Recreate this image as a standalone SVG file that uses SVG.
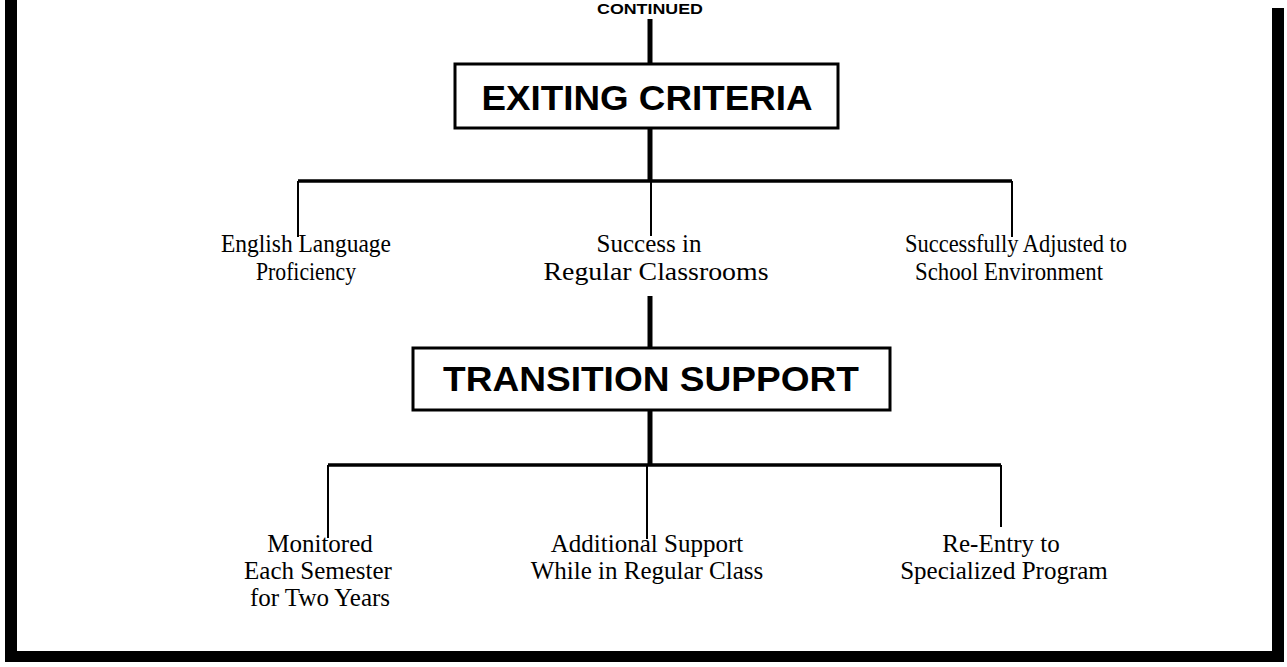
<svg xmlns="http://www.w3.org/2000/svg" width="1287" height="667" viewBox="0 0 1287 667">
<style>
.hdr{font-family:"Liberation Sans",Arial,sans-serif;font-weight:bold;fill:#000;text-anchor:middle}
.lbl{font-family:"Liberation Serif","Times New Roman",serif;font-size:25px;fill:#000;text-anchor:middle}
.box{fill:#fff;stroke:#000;stroke-width:3}
.trunk{stroke:#000;stroke-width:5;fill:none}
.bar{stroke:#000;stroke-width:3.5;fill:none}
.drop{stroke:#000;stroke-width:2;fill:none}
</style>
<rect x="0" y="0" width="1287" height="667" fill="#fff"/>
<g id="frame">
<rect x="5" y="0" width="12" height="662" fill="#000"/>
<rect x="1272" y="8" width="12" height="654" fill="#000"/>
<rect x="5" y="651" width="1279" height="11" fill="#000"/>
</g>
<g id="connectors">
<line class="trunk" x1="650" y1="19" x2="650" y2="64"/>
<line class="trunk" x1="650" y1="128" x2="650" y2="182"/>
<line class="bar" x1="298" y1="181" x2="1012" y2="181"/>
<line class="drop" x1="298" y1="181" x2="298" y2="237"/>
<line class="drop" x1="651" y1="181" x2="651" y2="236"/>
<line class="drop" x1="1012" y1="181" x2="1012" y2="237"/>
<line class="trunk" x1="650" y1="296" x2="650" y2="348"/>
<line class="trunk" x1="650" y1="410" x2="650" y2="466"/>
<line class="bar" x1="328" y1="465" x2="1001" y2="465"/>
<line class="drop" x1="328" y1="465" x2="328" y2="538"/>
<line class="drop" x1="647" y1="465" x2="647" y2="539"/>
<line class="drop" x1="1001" y1="465" x2="1001" y2="527"/>
</g>
<g id="continued">
<text class="hdr" x="650" y="14" font-size="14" textLength="106" lengthAdjust="spacingAndGlyphs">CONTINUED</text>
</g>
<g id="exiting-criteria">
<rect class="box" x="455" y="64" width="383" height="64"/>
<text class="hdr" x="647" y="110" font-size="35" textLength="331" lengthAdjust="spacingAndGlyphs">EXITING CRITERIA</text>
</g>
<g id="english">
<text class="lbl" x="306" y="252" textLength="170" lengthAdjust="spacingAndGlyphs">English Language</text>
<text class="lbl" x="306" y="280" textLength="100" lengthAdjust="spacingAndGlyphs">Proficiency</text>
</g>
<g id="success">
<text class="lbl" x="649" y="252">Success in</text>
<text class="lbl" x="656" y="280" textLength="225" lengthAdjust="spacingAndGlyphs">Regular Classrooms</text>
</g>
<g id="adjusted">
<text class="lbl" x="1016" y="252" textLength="222" lengthAdjust="spacingAndGlyphs">Successfully Adjusted to</text>
<text class="lbl" x="1009" y="280" textLength="188" lengthAdjust="spacingAndGlyphs">School Environment</text>
</g>
<g id="transition-support">
<rect class="box" x="413" y="348" width="477" height="62"/>
<text class="hdr" x="651" y="391" font-size="35" textLength="416" lengthAdjust="spacingAndGlyphs">TRANSITION SUPPORT</text>
</g>
<g id="monitored">
<text class="lbl" x="320" y="552">Monitored</text>
<text class="lbl" x="318" y="579">Each Semester</text>
<text class="lbl" x="320" y="606">for Two Years</text>
</g>
<g id="additional">
<text class="lbl" x="647" y="552">Additional Support</text>
<text class="lbl" x="647" y="579">While in Regular Class</text>
</g>
<g id="reentry">
<text class="lbl" x="1001" y="552">Re-Entry to</text>
<text class="lbl" x="1004" y="579">Specialized Program</text>
</g>
</svg>
